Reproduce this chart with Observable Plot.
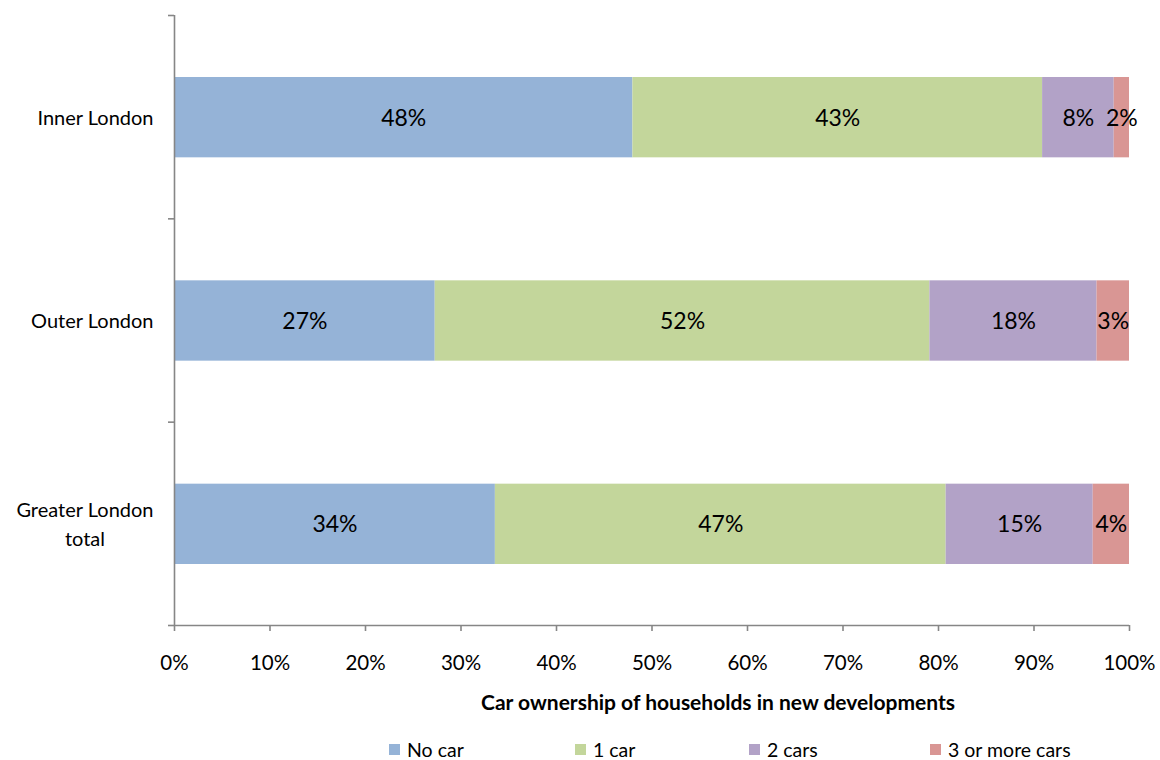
<!DOCTYPE html>
<html><head><meta charset="utf-8">
<script src="https://cdn.jsdelivr.net/npm/d3@7"></script>
<script src="https://cdn.jsdelivr.net/npm/@observablehq/plot@0.6"></script>
<style>
body{margin:0;background:#fff;font-family:Lato,"Open Sans",sans-serif;}
#wrap{position:relative;width:1160px;height:760px;overflow:hidden;}
#legend{position:absolute;left:0;top:738px;width:1160px;height:24px;font-size:19.5px;color:#000;}
.li{position:absolute;top:0;display:flex;align-items:center;white-space:nowrap;line-height:23px;}
.sw{width:11px;height:11px;margin-right:7px;display:inline-block;}
</style>
</head><body>
<div id="wrap"><div id="chart"></div><div id="legend"></div></div>
<script>
// ---- data ----
const regions = ["Inner London", "Outer London", "Greater London\ntotal"];
const seriesNames = ["No car", "1 car", "2 cars", "3 or more cars"];
const noCar = [48.0, 27.3, 33.6];
const oneCar = [42.9, 51.8, 47.2];
const twoCars = [7.5, 17.5, 15.4];
const threePlus = [1.6, 3.4, 3.8];
const xTicks = [0, 10, 20, 30, 40, 50, 60, 70, 80, 90, 100];
const xTitle = "Car ownership of households in new developments";
const colors = ["#95B3D7", "#C3D69B", "#B2A2C7", "#D99694"];
const legendLeft = [389, 575, 749, 930];

// ---- build stacked rows ----
const seriesVals = [noCar, oneCar, twoCars, threePlus];
const rows = [];
regions.forEach((r, i) => {
  let acc = 0;
  seriesVals.forEach((vals, s) => {
    const v = vals[i];
    rows.push({region: r, idx: i, series: seriesNames[s], x1: acc, x2: acc + v, v});
    acc += v;
  });
});
const catRows = regions.map((r, i) => ({region: r, y: i + 0.5}));
const axisColor = "#868686";

const chart = Plot.plot({
  width: 1160,
  height: 735,
  marginLeft: 174,
  marginRight: 31,
  marginTop: 15,
  marginBottom: 110,
  style: {fontFamily: "Lato, 'Open Sans', sans-serif", background: "#fff", color: "#000", overflow: "visible"},
  x: {domain: [0, 100]},
  y: {domain: [0, 3], reverse: true},
  color: {domain: seriesNames, range: colors},
  marks: [
    Plot.rect(rows, {x1: "x1", x2: "x2", y1: d => d.idx, y2: d => d.idx + 1, fill: "series", insetTop: 62, insetBottom: 61}),
    Plot.text(rows, {x: d => (d.x1 + d.x2) / 2, y: d => d.idx + 0.5, text: d => Math.round(d.v) + "%", fontSize: 23, fill: "#000", dy: 1}),
    Plot.ruleX([0], {stroke: axisColor, strokeWidth: 1.6}),
    Plot.ruleY([3], {stroke: axisColor, strokeWidth: 1.6}),
    Plot.axisY({ticks: [0, 1, 2, 3], tickSize: 6, tickFormat: () => "", stroke: axisColor, strokeWidth: 1.6, label: null}),
    Plot.axisX({ticks: xTicks, tickSize: 6, tickPadding: 24, tickFormat: d => d + "%", fontSize: 20.5, stroke: axisColor, strokeWidth: 1.6, fill: "#000",
      label: xTitle, labelAnchor: "center", labelOffset: 84, labelArrow: "none"}),
    Plot.text(catRows, {x: 0, y: "y", text: "region", textAnchor: "end", dx: -21, dy: -1.5, fontSize: 20, fill: "#000", lineHeight: 1.45, className: "catlabels"})
  ]
});
document.getElementById("chart").appendChild(chart);

// style axis title bold, offset to the right as in the original
chart.querySelectorAll("[aria-label='x-axis label'] text").forEach(t => {
  t.setAttribute("font-weight", "bold");
  t.setAttribute("font-size", "21");
  t.setAttribute("transform", (t.getAttribute("transform") || "") + " translate(66,0)");
});

// center-align multi-line category labels while keeping right edge
chart.querySelectorAll(".catlabels text").forEach(t => {
  if (t.querySelectorAll("tspan").length > 1) {
    const bb = t.getBBox();
    const right0 = bb.x + bb.width;
    t.setAttribute("text-anchor", "middle");
    const bb2 = t.getBBox();
    const dx = right0 - (bb2.x + bb2.width);
    t.setAttribute("transform", (t.getAttribute("transform") || "") + ` translate(${dx},0)`);
  }
});

// legend
const legend = document.getElementById("legend");
seriesNames.forEach((name, i) => {
  const item = document.createElement("div");
  item.className = "li";
  item.style.left = legendLeft[i] + "px";
  const sw = document.createElement("span");
  sw.className = "sw";
  sw.style.background = colors[i];
  item.appendChild(sw);
  item.appendChild(document.createTextNode(name));
  legend.appendChild(item);
});
</script>
</body></html>
